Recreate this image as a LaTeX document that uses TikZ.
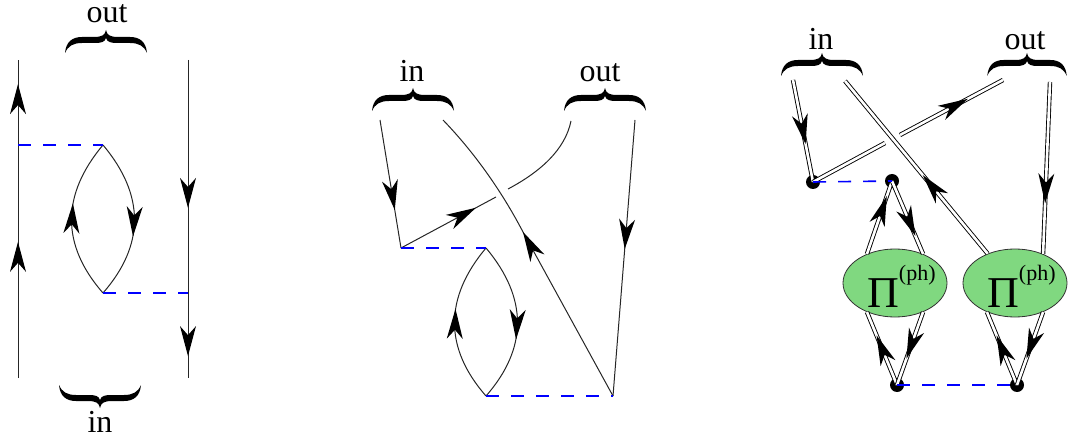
\documentclass[tikz,border=0pt]{standalone}
\usepackage{fontspec}
\setmainfont{Liberation Serif}
\usetikzlibrary{arrows.meta,decorations.markings,shapes.geometric}
\definecolor{polar}{HTML}{80D880}
\tikzset{
  x=1pt,y=-1pt,
  thinline/.style={line width=1pt,black!85},
  dbl/.style={double=white,double distance=2.6pt,line width=0.9pt,black},
  inter/.style={blue,line width=1.6pt,dash pattern=on 13pt off 12pt},
  arrowat/.style={postaction={decorate,decoration={markings,mark=at position #1 with {\fill[black] (1,0) -- (-29,8) -- (-20,0) -- (-29,-8) -- cycle;}}}},
  arrowtilt/.style={postaction={decorate,decoration={markings,mark=at position #1 with {\fill[black,rotate=7] (1,0) -- (-29,8) -- (-20,0) -- (-29,-8) -- cycle;}}}},
  vertexdot/.style={circle,fill=black,draw=none,minimum size=14pt,inner sep=0pt},
  bubble/.style={ellipse,draw=black!80,line width=0.8pt,fill=polar,minimum width=104pt,minimum height=68pt,inner sep=0pt},
  word/.style={font=\fontsize{32}{32}\selectfont,anchor=base,inner sep=0pt},
  pilabel/.style={anchor=base west,inner sep=0pt},
  bracetop/.pic={\fill[black] (0,0) .. controls (1,5) and (4,7) .. (12,7) -- (24,7) .. controls (34,7) and (40,12) .. (41,23)
     .. controls (38,16) and (33,13) .. (24,13) -- (11,13) .. controls (5,13) and (1,12) .. (0,8)
     .. controls (-1,12) and (-5,13) .. (-11,13) -- (-24,13) .. controls (-33,13) and (-38,16) .. (-41,23)
     .. controls (-40,12) and (-34,7) .. (-24,7) -- (-12,7) .. controls (-4,7) and (-1,5) .. (0,0) -- cycle;}
}
\newcommand{\pilab}{{\fontsize{44}{44}\selectfont Π}\raisebox{27pt}{\fontsize{22}{22}\selectfont (ph)}}
\begin{document}
\begin{tikzpicture}
\useasboundingbox (0,0) rectangle (1075,438);
% ---------- left diagram
\coordinate (a1) at (18,378); \coordinate (a2) at (18,60);
\coordinate (a3) at (188,60); \coordinate (a4) at (188,378);
\coordinate (a5) at (18,145); \coordinate (a6) at (103,145);
\coordinate (a7) at (103,293); \coordinate (a8) at (188,293);
\draw[thinline,arrowat=0.425,arrowat=0.921] (a1) -- (a2);
\draw[thinline,arrowat=0.462,arrowat=0.928] (a3) -- (a4);
\draw[thinline,arrowtilt=0.60] (a6) .. controls (145,195) and (145,245) .. (a7);
\draw[thinline,arrowtilt=0.59] (a7) .. controls (61,245) and (61,195) .. (a6);
\draw[inter] (a5) -- (a6);
\draw[inter] (a7) -- (a8);
\pic at (106,30) {bracetop};
\pic[yscale=-1] at (100,408) {bracetop};
\node[word] (lout) at (107,23) {out};
\node[word] (lin) at (100,432) {in};
% ---------- middle diagram
\coordinate (b1) at (380,120); \coordinate (b2) at (401,248);
\coordinate (b3) at (486,248); \coordinate (b4) at (486,396);
\coordinate (b5) at (613,396); \coordinate (b6) at (523,232);
\coordinate (b7) at (443,120); \coordinate (b8) at (635,120);
\coordinate (b9) at (496,197); \coordinate (b10) at (508,189);
\coordinate (b11) at (571,121);
\draw[thinline,arrowat=0.695] (b1) -- (b2);
\draw[thinline,arrowat=0.78] (b2) -- (b9);
\draw[thinline] (b10) .. controls (540,172) and (565,150) .. (b11);
\draw[thinline,arrowat=0.995] (b5) -- (b6);
\draw[thinline] (b6) .. controls (500,188) and (472,150) .. (b7);
\draw[thinline,arrowat=0.464] (b8) -- (b5);
\draw[thinline,arrowtilt=0.60] (b3) .. controls (528,298) and (528,348) .. (b4);
\draw[thinline,arrowtilt=0.575] (b4) .. controls (444,348) and (444,298) .. (b3);
\draw[inter] (b2) -- (b3);
\draw[inter] (b4) -- (b5);
\pic at (413,88) {bracetop};
\pic at (605,88) {bracetop};
\node[word] (min) at (412,82) {in};
\node[word] (mout) at (600,82) {out};
% ---------- right diagram
\node[bubble] (E1) at (895,283) {};
\node[bubble] (E2) at (1015,283) {};
\node[vertexdot] (V1) at (813,182) {};
\node[vertexdot] (V2) at (892,181) {};
\node[vertexdot] (V3) at (897,385) {};
\node[vertexdot] (V4) at (1017,385) {};
\coordinate (c1) at (793,80); \coordinate (c2) at (845,81);
\coordinate (c3) at (885,143); \coordinate (c4) at (900,135);
\coordinate (c5) at (1003,80); \coordinate (c6) at (1050,82);
\draw[dbl,arrowat=0.62] (c1) -- (V1.center);
\draw[dbl] (V1.center) -- (c3);
\draw[dbl,arrowat=0.65] (c4) -- (c5);
\draw[dbl,arrowat=0.45] (E2.133) -- (c2);
\draw[dbl,arrowat=0.70] (c6) -- (E2.46);
\draw[dbl,arrowat=0.78] (E1.134) -- (V2.center);
\draw[dbl,arrowat=0.74] (V2.center) -- (E1.46);
\draw[dbl,arrowat=0.667] (V3.center) -- (E1.226);
\draw[dbl,arrowat=0.625] (E1.314) -- (V3.center);
\draw[dbl,arrowat=0.667] (V4.center) -- (E2.226);
\draw[dbl,arrowat=0.625] (E2.314) -- (V4.center);
\draw[inter] (V1.center) -- (V2.center);
\draw[inter] (V3.center) -- (V4.center);
\node[pilabel] (P1) at (867,307) {\pilab};
\node[pilabel] (P2) at (987,307) {\pilab};
\pic at (822,53) {bracetop};
\pic[xscale=0.97] at (1027,53) {bracetop};
\node[word] (rin) at (821,50) {in};
\node[word] (rout) at (1025,50) {out};
\end{tikzpicture}
\end{document}
